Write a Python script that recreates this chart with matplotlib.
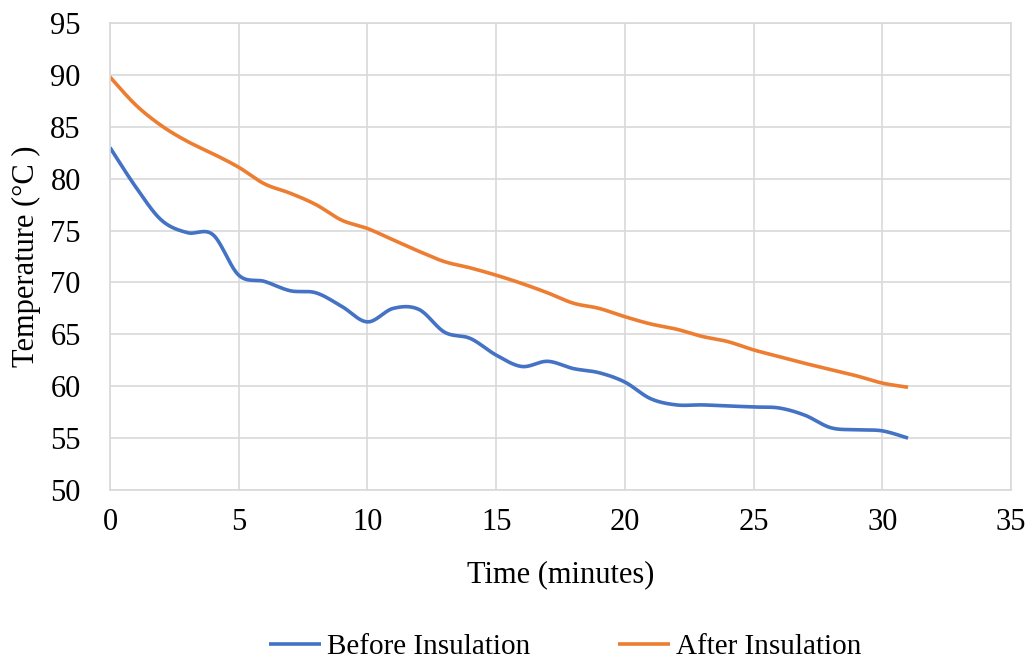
import numpy as np
import matplotlib
matplotlib.use("Agg")
import matplotlib.pyplot as plt

time_min = list(range(0, 32))
before_insulation = [83.0, 79.2, 76.0, 74.8, 74.6, 70.7, 70.1, 69.2, 69.0, 67.7,
                     66.2, 67.5, 67.4, 65.2, 64.6, 63.0, 61.9, 62.4, 61.7, 61.3,
                     60.4, 58.8, 58.2, 58.2, 58.1, 58.0, 57.9, 57.2, 56.0, 55.8,
                     55.7, 55.0]
after_insulation = [89.8, 87.1, 85.1, 83.6, 82.4, 81.1, 79.5, 78.6, 77.5, 76.0,
                    75.2, 74.1, 73.0, 72.0, 71.4, 70.7, 69.9, 69.0, 68.0, 67.5,
                    66.7, 66.0, 65.5, 64.8, 64.3, 63.5, 62.85, 62.2, 61.6, 61.0,
                    60.3, 59.9]
series_labels = ["Before Insulation", "After Insulation"]
x_ticks = [0, 5, 10, 15, 20, 25, 30, 35]
y_ticks = [50, 55, 60, 65, 70, 75, 80, 85, 90, 95]


def smooth(xs, ys, n=30):
    """Excel-like smoothed line (cardinal Bezier through all points)."""
    P = np.column_stack([xs, ys]).astype(float)
    Pe = np.vstack([P[0], P, P[-1]])
    out = []
    t = np.linspace(0, 1, n, endpoint=False)[:, None]
    for i in range(len(P) - 1):
        p0 = Pe[i + 1]
        p3 = Pe[i + 2]
        c1 = p0 + (Pe[i + 2] - Pe[i]) / 6.0
        c2 = p3 - (Pe[i + 3] - Pe[i + 1]) / 6.0
        seg = ((1 - t) ** 3) * p0 + 3 * ((1 - t) ** 2) * t * c1 + 3 * (1 - t) * t ** 2 * c2 + t ** 3 * p3
        out.append(seg)
    out.append(P[-1][None, :])
    arr = np.vstack(out)
    return arr[:, 0], arr[:, 1]


plt.rcParams['font.family'] = ['Liberation Serif', 'DejaVu Serif']

fig = plt.figure(figsize=(10.34, 6.6), dpi=100)
ax = fig.add_axes([110 / 1034, 1 - 490 / 660, (1011 - 110) / 1034, (490 - 23) / 660])

colors = ["#4472C4", "#ED7D31"]
for ys, lab, c in zip([before_insulation, after_insulation], series_labels, colors):
    sx, sy = smooth(time_min, ys)
    ax.plot(sx, sy, color=c, lw=2.6, label=lab, solid_capstyle='butt')

ax.set_xlim(0, 35)
ax.set_ylim(50, 95)
ax.set_xticks(x_ticks)
ax.set_yticks(y_ticks)
ax.grid(True, color="#d9d9d9", lw=1.2)
ax.set_axisbelow(True)
for s in ax.spines.values():
    s.set_color("#d9d9d9")
    s.set_linewidth(1.2)
ax.tick_params(length=0, labelsize=22, colors="black")
ax.tick_params(axis='x', pad=13)
ax.tick_params(axis='y', pad=21)

ax.set_xlabel("Time (minutes)", fontsize=22, labelpad=17)
ax.set_ylabel("Temperature (°C )", fontsize=22, labelpad=7)

fig.legend(loc='center', bbox_to_anchor=(565 / 1034, 1 - 647 / 660), ncol=2,
           frameon=False, fontsize=21, handlelength=1.8, handletextpad=0.2,
           columnspacing=3.0, borderaxespad=0)

fig.savefig("out.png", dpi=100)
